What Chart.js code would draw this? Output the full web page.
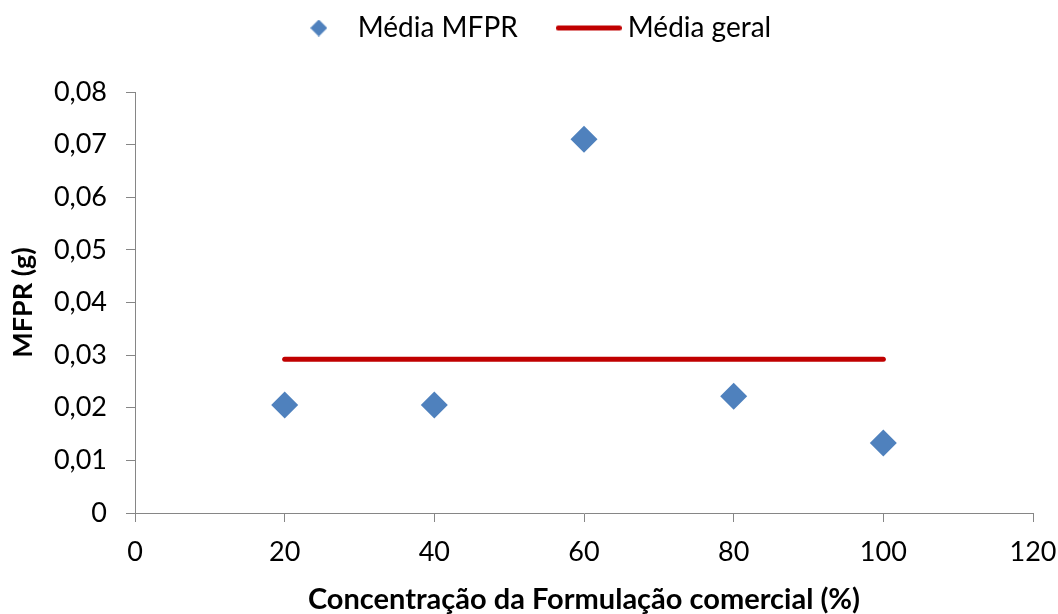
<!DOCTYPE html>
<html>
<head>
<meta charset="utf-8">
<script src="https://cdn.jsdelivr.net/npm/chart.js@4.4.1/dist/chart.umd.min.js"></script>
<style>
  html, body { margin: 0; padding: 0; background: #ffffff; }
  #wrap { width: 1058px; height: 614px; }
</style>
</head>
<body>
<div id="wrap"><canvas id="mfprChart" width="1058" height="614"></canvas></div>
<script>
// === Data ===
const concentrations = [20, 40, 60, 80, 100];
const mfprMeans = [0.0205, 0.0205, 0.0710, 0.0222, 0.0133];
const overallMean = 0.0292;
const overallRange = [20, 100];
const seriesLabels = ["Média MFPR", "Média geral"];
const xTitle = "Concentração da Formulação comercial (%)";
const yTitle = "MFPR (g)";

const blue = "#4F81BD";
const red = "#C00000";
const axisGray = "#868686";
const fontFamily = "Lato, 'Open Sans', sans-serif";

// Small canvases used as legend symbols
function makeDiamond(size) {
  const c = document.createElement("canvas");
  c.width = size;
  c.height = size;
  const g = c.getContext("2d");
  g.fillStyle = blue;
  g.beginPath();
  g.moveTo(size / 2, 0);
  g.lineTo(size, size / 2);
  g.lineTo(size / 2, size);
  g.lineTo(0, size / 2);
  g.closePath();
  g.fill();
  return c;
}

function makeLine(width, thick) {
  const c = document.createElement("canvas");
  c.width = width;
  c.height = thick + 2;
  const g = c.getContext("2d");
  g.strokeStyle = red;
  g.lineWidth = thick;
  g.lineCap = "round";
  g.beginPath();
  g.moveTo(thick / 2, c.height / 2);
  g.lineTo(width - thick / 2, c.height / 2);
  g.stroke();
  return c;
}

const legendDiamond = makeDiamond(17);
const legendLine = makeLine(66, 5);

// Format ticks with comma decimals (pt-BR style)
function commaTick(value) {
  if (Math.abs(value) < 1e-9) return "0";
  return value.toFixed(2).replace(".", ",");
}

// Fix the legend box height so the plot area starts where the reference does,
// and nudge it right to sit where the reference legend sits
const legendPlacement = {
  id: "legendPlacement",
  beforeInit(chart) {
    const fit = chart.legend.fit;
    chart.legend.fit = function () {
      fit.call(this);
      this.height = 124;
    };
  },
  afterLayout(chart) {
    chart.legend.left += 11;
    chart.legend.right += 11;
  },
};

const ctx = document.getElementById("mfprChart").getContext("2d");

new Chart(ctx, {
  type: "scatter",
  data: {
    datasets: [
      {
        label: seriesLabels[0],
        data: concentrations.map((c, i) => ({ x: c, y: mfprMeans[i] })),
        backgroundColor: blue,
        borderColor: blue,
        pointStyle: "rectRot",
        pointRadius: 13.5,
        pointHoverRadius: 13.5,
        borderWidth: 0,
      },
      {
        label: seriesLabels[1],
        type: "line",
        data: overallRange.map((c) => ({ x: c, y: overallMean })),
        borderColor: red,
        backgroundColor: red,
        borderWidth: 5,
        borderCapStyle: "round",
        pointRadius: 0,
        pointHoverRadius: 0,
        fill: false,
      },
    ],
  },
  options: {
    responsive: false,
    animation: false,
    layout: {
      padding: { top: -32, right: 25, bottom: 0, left: 10 },
    },
    scales: {
      x: {
        type: "linear",
        min: 0,
        max: 120,
        ticks: {
          stepSize: 20,
          color: "#000000",
          font: { family: fontFamily, size: 27 },
          padding: 14,
          maxRotation: 0,
        },
        grid: {
          drawOnChartArea: false,
          drawTicks: true,
          tickLength: 9,
          color: axisGray,
        },
        border: { color: axisGray, width: 1 },
        title: {
          display: true,
          text: xTitle,
          color: "#000000",
          font: { family: fontFamily, size: 29, weight: "bold", lineHeight: 1 },
          padding: { top: 0, bottom: 0 },
        },
        afterFit: (scale) => {
          scale.height = 101;
          scale.paddingRight = 0;
          scale.paddingLeft = 0;
        },
      },
      y: {
        min: 0,
        max: 0.08,
        ticks: {
          stepSize: 0.01,
          color: "#000000",
          font: { family: fontFamily, size: 27 },
          padding: 19,
          callback: commaTick,
        },
        grid: {
          drawOnChartArea: false,
          drawTicks: true,
          tickLength: 9,
          color: axisGray,
        },
        border: { color: axisGray, width: 1 },
        title: {
          display: true,
          text: yTitle,
          color: "#000000",
          font: { family: fontFamily, size: 27, weight: "bold", lineHeight: 1 },
          padding: { top: 0, bottom: 0 },
        },
        afterFit: (scale) => {
          scale.width = 125;
        },
      },
    },
    plugins: {
      legend: {
        position: "top",
        labels: {
          color: "#000000",
          font: { family: fontFamily, size: 28 },
          usePointStyle: true,
          pointStyleWidth: 50,
          padding: 46,
          generateLabels: (chart) =>
            chart.data.datasets.map((ds, i) => ({
              text: ds.label,
              datasetIndex: i,
              pointStyle: i === 0 ? legendDiamond : legendLine,
              fillStyle: i === 0 ? blue : red,
              strokeStyle: i === 0 ? blue : red,
              lineWidth: 0,
              fontColor: "#000000",
              hidden: false,
            })),
        },
      },
      tooltip: { enabled: false },
    },
  },
  plugins: [legendPlacement],
});
</script>
</body>
</html>
